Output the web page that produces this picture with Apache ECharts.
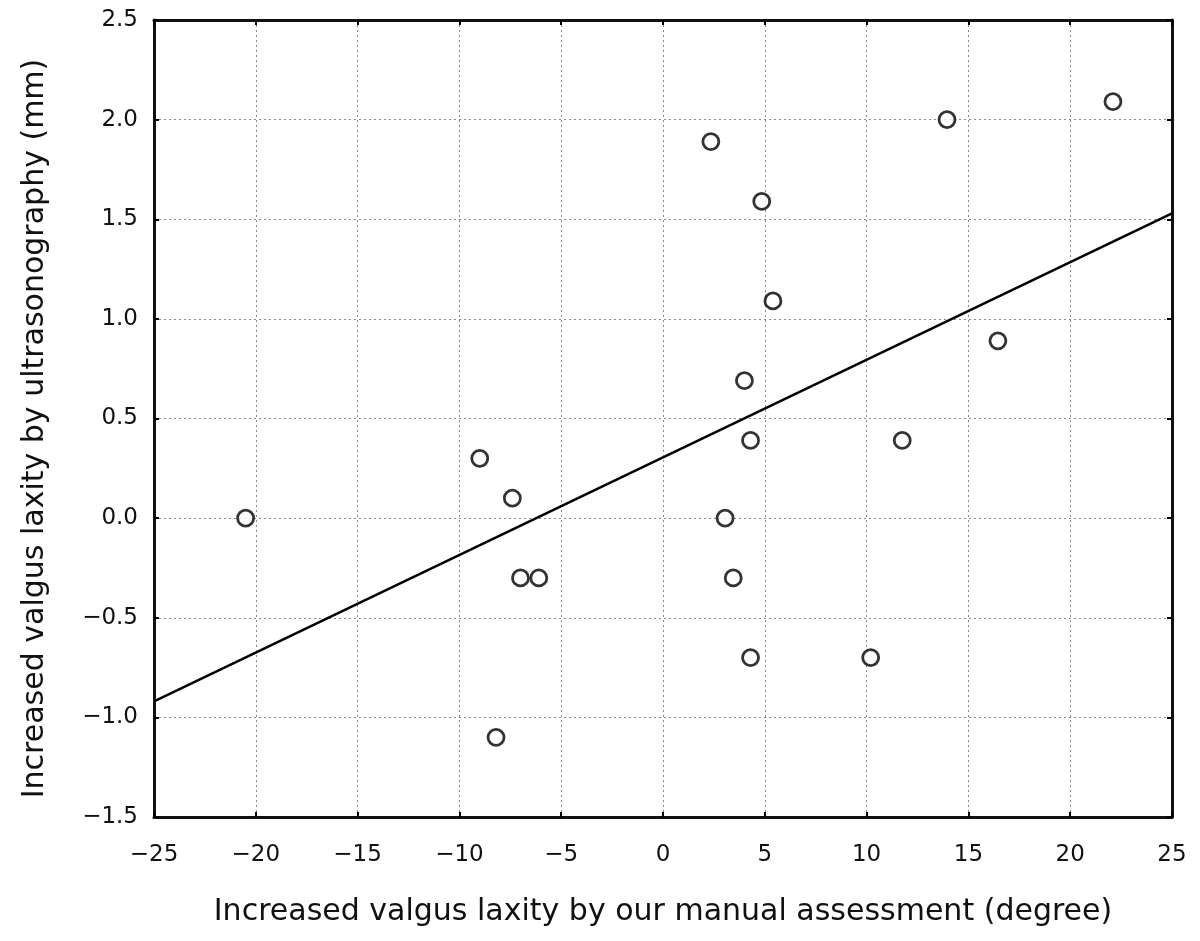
<!DOCTYPE html>
<html>
<head>
<meta charset="utf-8">
<script src="https://cdn.jsdelivr.net/npm/echarts@6/dist/echarts.min.js"></script>
<style>
  html, body { margin: 0; padding: 0; background: #fff; }
  #chart { width: 1200px; height: 941px; }
</style>
</head>
<body>
<div id="chart"></div>
<script>
// manual assessment (degree) vs ultrasonography (mm)
const manualDeg = [-20.5, -9.0, -7.4, -7.0, -6.1, -8.2, 2.35, 4.85, 5.4, 4.0, 4.3, 3.05, 3.45, 4.3, 10.2, 11.75, 13.95, 16.45, 22.1]
const ultraMm = [0.0, 0.3, 0.1, -0.3, -0.3, -1.1, 1.89, 1.59, 1.09, 0.69, 0.39, 0.0, -0.3, -0.7, -0.7, 0.39, 2.0, 0.89, 2.09]
// fitted line, end points
const fitX = [-25, 25]
const fitY = [-0.92, 1.53]

const points = manualDeg.map((x, i) => [x, ultraMm[i]])
const fitLine = fitX.map((x, i) => [x, fitY[i]])

const fontFamily = 'DejaVu Sans'
const minus = v => String(v).replace('-', '\u2212')

const gridLine = { show: true, lineStyle: { color: '#888', type: [2, 3], width: 1 } }
const tick = { show: true, inside: true, length: 5, lineStyle: { color: '#000', width: 2 } }
const axisLine = { show: true, onZero: false, lineStyle: { color: '#111', width: 3 } }

const chart = echarts.init(document.getElementById('chart'))
chart.setOption({
    backgroundColor: '#fff',
    animation: false,
    grid: { left: 154, right: 28, top: 20, bottom: 124 },
    xAxis: [{
        type: 'value',
        min: -25,
        max: 25,
        interval: 5,
        position: 'bottom',
        name: 'Increased valgus laxity by our manual assessment (degree)',
        nameLocation: 'middle',
        nameGap: 80,
        nameTextStyle: { fontFamily, fontSize: 30, color: '#111' },
        axisLine,
        axisTick: tick,
        splitLine: gridLine,
        axisLabel: { fontFamily, fontSize: 23, color: '#111', margin: 27, formatter: minus }
    }, {
        type: 'value',
        min: -25,
        max: 25,
        interval: 5,
        position: 'top',
        axisLine,
        axisTick: tick,
        splitLine: { show: false },
        axisLabel: { show: false }
    }],
    yAxis: [{
        type: 'value',
        min: -1.5,
        max: 2.5,
        interval: 0.5,
        position: 'left',
        name: 'Increased valgus laxity by ultrasonography (mm)',
        nameLocation: 'middle',
        nameGap: 104,
        nameTextStyle: { fontFamily, fontSize: 30, color: '#111', padding: [0, 20, 0, 0] },
        axisLine,
        axisTick: tick,
        splitLine: gridLine,
        axisLabel: { fontFamily, fontSize: 23, color: '#111', margin: 16, formatter: v => minus(v.toFixed(1)) }
    }, {
        type: 'value',
        min: -1.5,
        max: 2.5,
        interval: 0.5,
        position: 'right',
        axisLine,
        axisTick: tick,
        splitLine: { show: false },
        axisLabel: { show: false }
    }],
    series: [{
        type: 'line',
        data: fitLine,
        symbol: 'none',
        lineStyle: { color: '#000', width: 2.5 },
        z: 3
    }, {
        type: 'scatter',
        data: points,
        symbol: 'circle',
        symbolSize: 16,
        itemStyle: { color: '#fff', borderColor: '#000', borderWidth: 2.8 },
        z: 4
    }]
})
</script>
</body>
</html>
